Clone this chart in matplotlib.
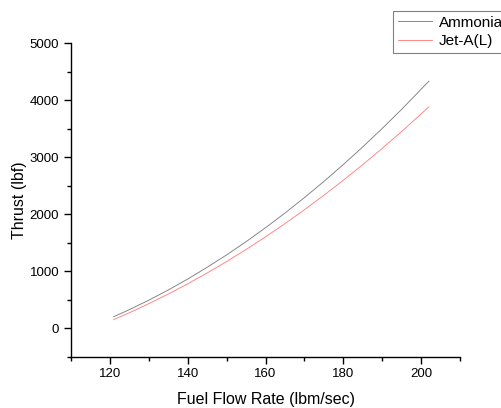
import matplotlib
matplotlib.use("Agg")
import matplotlib.pyplot as plt
from matplotlib.ticker import MultipleLocator

plt.rcParams["font.family"] = ["Liberation Sans", "DejaVu Sans"]

# Valeurs
flow = [121, 125, 130, 135, 140, 145, 150, 155, 160,
        165, 170, 175, 180, 185, 190, 195, 202]
thrust_ammonia = [200, 323, 489, 668, 860, 1066, 1284, 1515, 1760,
                  2017, 2288, 2572, 2868, 3178, 3501, 3837, 4330]
thrust_jeta = [150, 269, 428, 597, 776, 966, 1167, 1378, 1600,
               1832, 2075, 2329, 2593, 2867, 3152, 3448, 3880]

fig = plt.figure(figsize=(5.02, 4.08), dpi=100)
ax = fig.add_axes([0.1414, 0.126, 0.775, 0.7686])

ax.plot(flow, thrust_ammonia, color="#808080", lw=0.65, label="Ammonia")
ax.plot(flow, thrust_jeta, color="#ff8080", lw=0.65, label="Jet-A(L)")

ax.set_xlim(110, 210)
ax.set_ylim(-500, 5000)
ax.xaxis.set_major_locator(MultipleLocator(20))
ax.xaxis.set_minor_locator(MultipleLocator(10))
ax.yaxis.set_major_locator(MultipleLocator(1000))
ax.yaxis.set_minor_locator(MultipleLocator(500))

for side in ("top", "right"):
    ax.spines[side].set_visible(False)
for side in ("left", "bottom"):
    ax.spines[side].set_linewidth(1.0)
ax.tick_params(which="major", direction="out", length=5, width=1.0, labelsize=9.5)
ax.tick_params(which="minor", direction="out", length=3, width=1.0)

ax.set_xlabel("Fuel Flow Rate (lbm/sec)", fontsize=11.5, labelpad=8)
ax.set_ylabel("Thrust (lbf)", fontsize=11.5, labelpad=2)

leg = fig.legend(loc="upper left", bbox_to_anchor=(393 / 502, 1 - 10.5 / 408),
                 fontsize=11, fancybox=False, framealpha=1, edgecolor="#808080",
                 handlelength=2.25, borderpad=0.33, labelspacing=0.32,
                 handletextpad=0.4, borderaxespad=0)
leg.get_frame().set_linewidth(0.8)

fig.savefig("out.png", dpi=100)
